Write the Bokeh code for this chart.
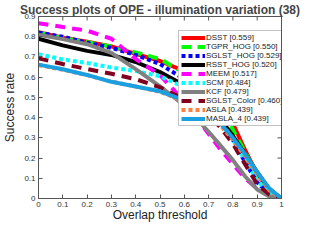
import math
from bokeh.plotting import figure
from bokeh.models import Legend, LegendItem, FixedTicker, Range1d
from bokeh.embed import file_html
from bokeh.resources import INLINE

thresholds = [0, 0.1, 0.2, 0.3, 0.4, 0.5, 0.6, 0.7, 0.75, 0.8, 0.85, 0.9, 0.95, 1.0]

dsst        = [0.822, 0.795, 0.775, 0.752, 0.715, 0.680, 0.630, 0.540, 0.470, 0.370, 0.240, 0.120, 0.040, 0]
tgpr_hog    = [0.820, 0.793, 0.773, 0.752, 0.722, 0.690, 0.620, 0.520, 0.450, 0.340, 0.230, 0.120, 0.040, 0]
sglst_hog   = [0.820, 0.800, 0.770, 0.745, 0.710, 0.665, 0.590, 0.480, 0.400, 0.290, 0.180, 0.080, 0.020, 0]
rsst_hog    = [0.790, 0.757, 0.730, 0.710, 0.675, 0.625, 0.560, 0.460, 0.390, 0.310, 0.220, 0.130, 0.045, 0]
meem        = [0.867, 0.848, 0.830, 0.790, 0.690, 0.610, 0.480, 0.320, 0.240, 0.170, 0.100, 0.050, 0.020, 0]
scm         = [0.713, 0.688, 0.670, 0.648, 0.630, 0.605, 0.550, 0.450, 0.380, 0.290, 0.190, 0.090, 0.025, 0]
kcf         = [0.810, 0.788, 0.763, 0.720, 0.640, 0.555, 0.460, 0.330, 0.260, 0.190, 0.110, 0.045, 0.010, 0]
sglst_color = [0.693, 0.665, 0.640, 0.617, 0.590, 0.550, 0.490, 0.410, 0.350, 0.270, 0.170, 0.070, 0.020, 0]
asla        = [0.660, 0.637, 0.610, 0.578, 0.554, 0.528, 0.480, 0.410, 0.360, 0.290, 0.210, 0.120, 0.040, 0]
masla_4     = [0.662, 0.639, 0.611, 0.577, 0.554, 0.530, 0.485, 0.420, 0.370, 0.300, 0.220, 0.130, 0.050, 0]

names = ["DSST [0.559]", "TGPR_HOG [0.550]", "SGLST_HOG [0.529]", "RSST_HOG [0.520]",
         "MEEM [0.517]", "SCM [0.484]", "KCF [0.479]", "SGLST_Color [0.460]",
         "ASLA [0.439]", "MASLA_4 [0.439]"]
series = [dsst, tgpr_hog, sglst_hog, rsst_hog, meem, scm, kcf, sglst_color, asla, masla_4]
colors = ["#ff0000", "#00ff00", "#0000ff", "#000000", "#ff00ff", "#00ffff",
          "#808080", "#800020", "#ff8040", "#1a9fe0"]
dashes = ["solid", "10 6", "4 3", "solid", "10 7", "4 3", "solid", "10 7", "4 3", "solid"]

x_ticks = [0, 0.1, 0.2, 0.3, 0.4, 0.5, 0.6, 0.7, 0.8, 0.9, 1.0]
y_ticks = [0, 0.1, 0.2, 0.3, 0.4, 0.5, 0.6, 0.7, 0.8, 0.9]
x_max = 1.0
y_max = 0.9

FONT = "Liberation Sans"
AX = "#555555"

p = figure(width=304, height=224, output_backend="svg", toolbar_location=None,
           x_range=Range1d(0, x_max), y_range=Range1d(0, y_max),
           min_border_left=33, min_border_right=23, min_border_bottom=20, min_border_top=0,
           title="Success plots of OPE - illumination variation (38)")
p.title.text_font = FONT
p.title.text_font_size = "12px"
p.title.text_font_style = "bold"
p.title.align = "center"
p.title.standoff = 0
p.title.offset = 0
p.title.text_line_height = 0.8

p.grid.visible = False
p.outline_line_color = AX
p.background_fill_color = "white"
p.border_fill_color = "white"

p.xaxis.ticker = FixedTicker(ticks=x_ticks)
p.yaxis.ticker = FixedTicker(ticks=y_ticks)
for ax in p.xaxis + p.yaxis:
    ax.major_tick_in = 4
    ax.major_tick_out = 0
    ax.minor_tick_in = 0
    ax.minor_tick_out = 0
    ax.axis_line_color = AX
    ax.major_tick_line_color = AX
    ax.major_label_text_font = FONT
    ax.major_label_text_font_size = "8px"
    ax.major_label_text_color = "#333333"
    ax.major_label_standoff = 3
    ax.axis_label_text_font = FONT
    ax.axis_label_text_font_size = "12px"
    ax.axis_label_text_font_style = "normal"
    ax.axis_label_text_color = "#222222"
p.xaxis.axis_label = "Overlap threshold"
p.yaxis.axis_label = "Success rate"
p.xaxis.axis_label_standoff = -2
p.yaxis.axis_label_standoff = 4
p.xaxis.major_label_overrides = {t: f"{t:g}" for t in x_ticks}
p.yaxis.major_label_overrides = {t: f"{t:g}" for t in y_ticks}

# inward tick marks on the top and right edges of the box (half clipped by the frame)
p.scatter(x_ticks, [y_max] * len(x_ticks), marker="dash", size=8, angle=math.pi / 2,
          line_color=AX, line_width=1)
p.scatter([x_max] * len(y_ticks), y_ticks, marker="dash", size=8, angle=0,
          line_color=AX, line_width=1)

items = []
for name, ys, c, d in zip(names, series, colors, dashes):
    r = p.line(thresholds, ys, line_color=c, line_width=4, line_dash=d,
               line_cap="butt", line_join="round")
    items.append(LegendItem(label=name, renderers=[r]))

legend = Legend(items=items, location=(140, 72))
legend.label_text_font = FONT
legend.label_text_font_size = "8px"
legend.label_text_color = "#222222"
legend.label_height = 9
legend.label_standoff = 1
legend.glyph_height = 9
legend.glyph_width = 24
legend.spacing = 0
legend.padding = 2
legend.margin = 0
legend.border_line_color = "#888888"
legend.border_line_width = 1
legend.background_fill_color = "white"
legend.background_fill_alpha = 1
p.add_layout(legend, "center")

open("out.html", "w").write(file_html(p, INLINE))
